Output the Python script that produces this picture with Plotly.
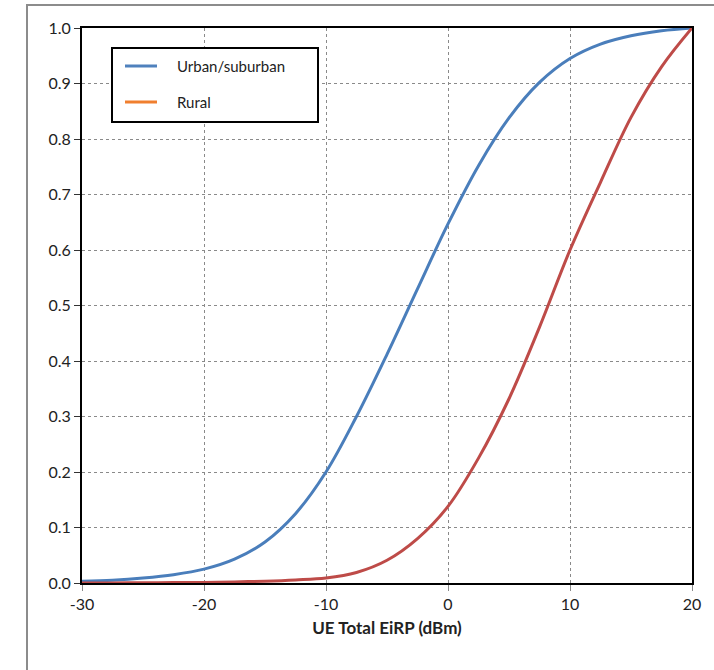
import plotly.graph_objects as go

x_vals = [-30, -27.5, -25, -22.5, -20, -17.5, -15, -12.5, -10, -7.5, -5, -2.5, 0, 2.5, 5, 7.5, 10, 12.5, 15, 17.5, 20]
urban = [0.003, 0.005, 0.009, 0.015, 0.025, 0.043, 0.074, 0.125, 0.2, 0.3, 0.412, 0.53, 0.647, 0.752, 0.838, 0.902, 0.945, 0.971, 0.986, 0.995, 1.0]
rural = [0.0, 0.0002, 0.0004, 0.0007, 0.001, 0.002, 0.0033, 0.0055, 0.009, 0.019, 0.041, 0.08, 0.138, 0.225, 0.332, 0.461, 0.6, 0.722, 0.839, 0.93, 1.0]

legend_names = ["Urban/suburban", "Rural"]
legend_colors = ["#4F81BD", "#F07F2F"]
urban_color = "#4A7EBB"
rural_color = "#BE4B48"

font_family = "Lato, 'Open Sans', sans-serif"

fig = go.Figure()
fig.add_trace(go.Scatter(x=x_vals, y=urban, mode="lines", line=dict(color=urban_color, width=3, shape="spline"), showlegend=False))
fig.add_trace(go.Scatter(x=x_vals, y=rural, mode="lines", line=dict(color=rural_color, width=3, shape="spline"), showlegend=False))

W, H = 714, 670
L, R, T, B = 82, 22, 28, 87
pw, ph = W - L - R, H - T - B

def px(xp):
    return (xp - L) / pw

def py(yp):
    return (H - B - yp) / ph

shapes = []
# outer gray border (extends beyond view)
shapes.append(dict(type="rect", xref="paper", yref="paper", x0=px(27), x1=px(740), y0=py(5), y1=py(700),
                   line=dict(color="#8c8c8c", width=2), layer="below"))
# legend box
shapes.append(dict(type="rect", xref="paper", yref="paper", x0=px(112), x1=px(318), y0=py(48), y1=py(122),
                   line=dict(color="black", width=2), fillcolor="white", layer="above"))
annotations = []
for i, (nm, col) in enumerate(zip(legend_names, legend_colors)):
    yy = 66 + i * 36
    shapes.append(dict(type="line", xref="paper", yref="paper", x0=px(125), x1=px(157), y0=py(yy), y1=py(yy),
                       line=dict(color=col, width=3), layer="above"))
    annotations.append(dict(xref="paper", yref="paper", x=px(175), y=py(yy), text=nm, showarrow=False,
                            xanchor="left", yanchor="middle", font=dict(family=font_family, size=15, color="#222")))

fig.update_layout(
    width=W, height=H,
    margin=dict(l=L, r=R, t=T, b=B),
    paper_bgcolor="white", plot_bgcolor="white",
    shapes=shapes, annotations=annotations,
    font=dict(family=font_family, size=16, color="#222"),
)
fig.update_xaxes(range=[-30, 20], tickvals=[-30, -20, -10, 0, 10, 20], ticktext=["-30", "-20", "-10", "0", "10", "20"],
                 showgrid=True, gridcolor="#8a8a8a", griddash="dot", gridwidth=1,
                 showline=True, linecolor="black", linewidth=2, mirror=True,
                 ticks="outside", ticklen=6, tickcolor="#8a8a8a",
                 title=dict(text="<b>UE Total EiRP (dBm)</b>", font=dict(size=17), standoff=10),
                 zeroline=False)
fig.update_yaxes(range=[0, 1], tickvals=[0, 0.1, 0.2, 0.3, 0.4, 0.5, 0.6, 0.7, 0.8, 0.9, 1.0],
                 tickformat=".1f",
                 showgrid=True, gridcolor="#8a8a8a", griddash="dot", gridwidth=1,
                 showline=True, linecolor="black", linewidth=2, mirror=True,
                 ticks="outside", ticklen=6, tickcolor="#333",
                 zeroline=False)

fig.write_html("out.html", config={"displayModeBar": False}, post_script="document.body.style.margin='0';")
